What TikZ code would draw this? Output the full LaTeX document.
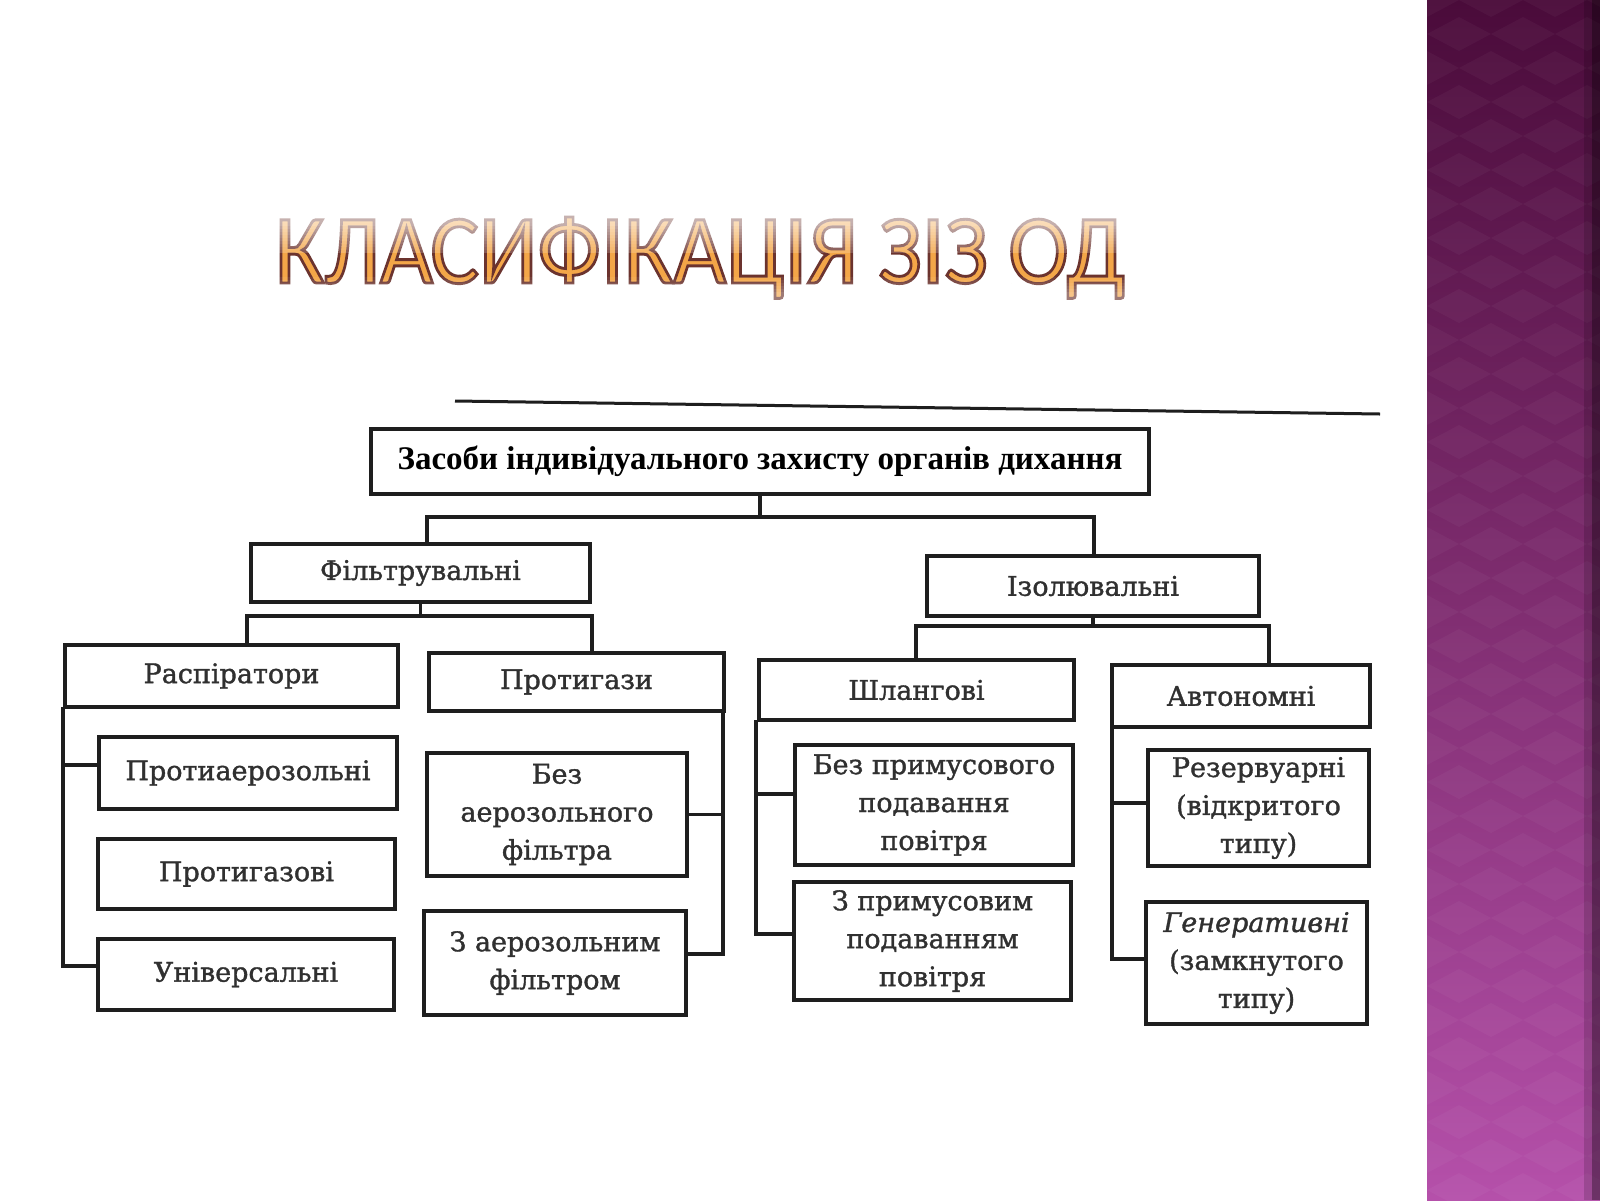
\documentclass[tikz,border=0pt]{standalone}
\usepackage{fontspec}
\usepackage{graphicx}
\setmainfont{DejaVu Serif}
\newfontfamily\bodyfont{DejaVu Serif}[FakeBold=1.3]
\newfontfamily\rootfont{Liberation Serif}
\newfontfamily\titlefont{Carlito}
\usetikzlibrary{calc}
\definecolor{lineC}{HTML}{1E1E1E}
\definecolor{txtC}{HTML}{303030}
\definecolor{tB}{HTML}{F3A648}
\definecolor{bandTop}{HTML}{4A0B3A}
\definecolor{bandMid}{HTML}{7F2D70}
\definecolor{bandBot}{HTML}{B550AA}
\newcommand\ttltext{\resizebox{850pt}{66pt}{\titlefont\fontsize{102}{110}\selectfont КЛАСИФІКАЦІЯ ЗІЗ ОД}}
\newcommand\outlined[1]{\special{pdf:literal direct 2 Tr 0.42 0.20 0.18 RG 3 w}#1\special{pdf:literal direct 0 Tr}}
\tikzset{
  box/.style={draw=lineC, line width=3.4pt, fill=white, inner sep=0pt, align=center,
    text=txtC, font=\bodyfont\fontsize{27}{38}\selectfont},
  rootbox/.style={box, font=\rootfont\bfseries\fontsize{33}{38}\selectfont, text=black},
  conn/.style={draw=lineC, line width=3.4pt, line cap=rect},
}
\begin{document}
\begin{tikzpicture}[x=1pt,y=-1pt]
\useasboundingbox (0,0) rectangle (1600,1200);
\fill[white] (0,0) rectangle (1600,1200);
% purple band
\shade[top color=bandTop, bottom color=bandBot, middle color=bandMid] (1427,0) rectangle (1600,1200);
\begin{scope}
  \clip (1427,0) rectangle (1600,1200);
  \foreach \r in {0,...,36} {
    \foreach \c in {0,...,3} {
      \pgfmathsetmacro\cx{1427+64*\c+mod(\r,2)*32}
      \pgfmathsetmacro\cy{34*\r}
      \fill[white, opacity=0.035] (\cx-32,\cy) -- (\cx,\cy-17) -- (\cx+32,\cy) -- (\cx,\cy+17) -- cycle;
    }
  }
\end{scope}
\fill[black, opacity=0.15] (1584,0) rectangle (1600,1200);
\fill[black, opacity=0.3] (1592,0) rectangle (1600,1200);
\draw[lineC, line width=3pt] (455,401) -- (1380,414);

% title: filled orange with brown outline, lighter at top via white veil
\node[anchor=base, text=tB, inner sep=0pt] (title) at (700,283) {\outlined{\ttltext}};
\foreach \i in {0,...,15} {
  \pgfmathsetmacro\ya{205+3*\i}
  \pgfmathsetmacro\op{0.62*max(0,min(1,(262-\ya)/40))}
  \fill[white, opacity=\op] (260,\ya) rectangle (1140,\ya+3.05);
}
\foreach \i in {0,...,8} {
  \pgfmathsetmacro\ya{274+3*\i}
  \pgfmathsetmacro\op{0.35*max(0,min(1,(\ya-274)/18))}
  \fill[white, opacity=\op] (260,\ya) rectangle (1140,\ya+3.05);
}

% boxes
\node[rootbox, minimum width=778pt, minimum height=65pt] (root) at (760,461.5) {Засоби індивідуального захисту органів дихання};
\node[box, minimum width=339pt, minimum height=58pt] (fil) at (420.5,573) {Фільтрувальні};
\node[box, minimum width=332pt, minimum height=60pt] (izo) at (1093,586) {Ізолювальні};
\node[box, minimum width=333pt, minimum height=62pt] (resp) at (231.5,676) {Распіратори};
\node[box, minimum width=295pt, minimum height=58pt] (prot) at (576.5,682) {Протигази};
\node[box, minimum width=315pt, minimum height=60pt] (shl) at (916.5,690) {Шлангові};
\node[box, minimum width=258pt, minimum height=62pt] (avt) at (1241,696) {Автономні};
\node[box, minimum width=298pt, minimum height=72pt] (pa) at (248,773) {Протиаерозольні};
\node[box, minimum width=297pt, minimum height=70pt] (pg) at (246.5,874) {Протигазові};
\node[box, minimum width=296pt, minimum height=71pt] (un) at (246,974.5) {Універсальні};
\node[box, minimum width=260pt, minimum height=123pt] (bez) at (557,814.5) {Без\\аерозольного\\фільтра};
\node[box, minimum width=262pt, minimum height=104pt] (zae) at (555,963) {З аерозольним\\фільтром};
\node[box, minimum width=278pt, minimum height=120pt] (bpp) at (934,805) {Без примусового\\подавання\\повітря};
\node[box, minimum width=277pt, minimum height=118pt] (zpp) at (932.5,941) {З примусовим\\подаванням\\повітря};
\node[box, minimum width=221pt, minimum height=116pt] (rez) at (1258.5,808) {Резервуарні\\(відкритого\\типу)};
\node[box, minimum width=221pt, minimum height=122pt] (gen) at (1256.5,963) {\itshape Генеративні\\(замкнутого\\типу)};

% level 1 connectors
\coordinate (b1L) at (427,517);
\coordinate (b1R) at (1094,517);
\draw[conn] (root.south) -- (root.south |- b1L);
\draw[conn] (b1L) -- (b1R);
\draw[conn] (b1L) -- (b1L |- fil.north);
\draw[conn] (b1R) -- (b1R |- izo.north);
% level 2 connectors
\coordinate (b2L) at (247,616);
\coordinate (b2R) at (592,616);
\draw[conn] (fil.south) -- (fil.south |- b2L);
\draw[conn] (b2L) -- (b2R);
\draw[conn] (b2L) -- (b2L |- resp.north);
\draw[conn] (b2R) -- (b2R |- prot.north);
\coordinate (b3L) at (916,626);
\coordinate (b3R) at (1269,626);
\draw[conn] (izo.south) -- (izo.south |- b3L);
\draw[conn] (b3L) -- (b3R);
\draw[conn] (b3L) -- (b3L |- shl.north);
\draw[conn] (b3R) -- (b3R |- avt.north);
% level 3 connectors
\coordinate (rL) at (63,966);
\draw[conn] (resp.south -| rL) -- (rL) -- (rL -| un.west);
\draw[conn] ([yshift=8pt]pa.west) -- ([yshift=8pt]pa.west -| rL);
\coordinate (pR) at (723,954);
\draw[conn] (prot.south -| pR) -- (pR) -- (pR -| zae.east);
\draw[conn] (bez.east) -- (bez.east -| pR);
\coordinate (sL) at (756,934);
\draw[conn] (shl.south -| sL) -- (sL) -- (sL -| zpp.west);
\draw[conn] ([yshift=11pt]bpp.west) -- ([yshift=11pt]bpp.west -| sL);
\coordinate (aL) at (1112,959);
\draw[conn] (avt.south -| aL) -- (aL) -- (aL -| gen.west);
\draw[conn] ([yshift=5pt]rez.west) -- ([yshift=5pt]rez.west -| aL);
\end{tikzpicture}
\end{document}
